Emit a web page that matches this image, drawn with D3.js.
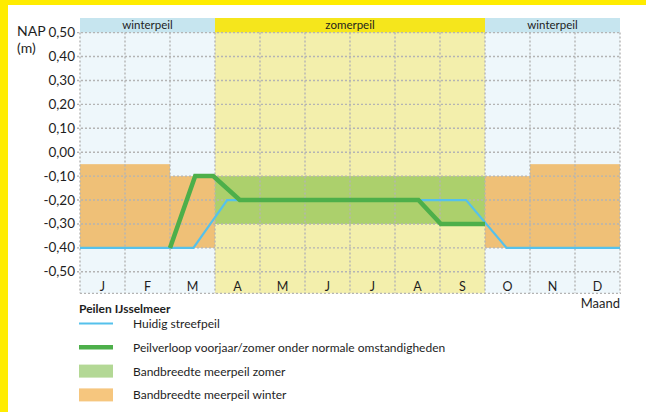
<!DOCTYPE html>
<html>
<head>
<meta charset="utf-8">
<script src="https://cdn.jsdelivr.net/npm/d3@7"></script>
<style>
  body { margin: 0; background: #fff; }
  svg text { font-family: Lato, "Noto Sans", sans-serif; fill: #1e1e1e; }
</style>
</head>
<body>
<div id="chart"></div>
<script>
// maanden en seizoenen
let months = ["J", "F", "M", "A", "M", "J", "J", "A", "S", "O", "N", "D"];
let seasons = [
    { name: "winterpeil", from: 0, to: 3, head: "#c6e5ef", bg: "#eef7fb" },
    { name: "zomerpeil", from: 3, to: 9, head: "#f5e61c", bg: "#f3efac" },
    { name: "winterpeil", from: 9, to: 12, head: "#c6e5ef", bg: "#eef7fb" }
];
let yTicks = [0.5, 0.4, 0.3, 0.2, 0.1, 0, -0.1, -0.2, -0.3, -0.4, -0.5];

// bandbreedtes per maand [van, tot, boven, onder]
let winterBand = [[0, 2, -0.05, -0.40], [2, 3, -0.10, -0.40], [9, 10, -0.10, -0.40], [10, 12, -0.05, -0.40]];
let zomerBand = [[3, 9, -0.10, -0.30]];

// lijnen: [maand, peil]
let streefpeil = [[0, -0.40], [2.52, -0.40], [3.27, -0.20], [8.58, -0.20], [9.48, -0.40], [12, -0.40]];
let peilverloop = [[2.0, -0.40], [2.56, -0.10], [2.96, -0.10], [3.55, -0.20], [7.52, -0.20], [8.02, -0.30], [9.0, -0.30]];

let legendItems = [
    { type: "line", color: "#55c1ec", w: 2.2, label: "Huidig streefpeil" },
    { type: "line", color: "#4daf4a", w: 4.5, label: "Peilverloop voorjaar/zomer onder normale omstandigheden" },
    { type: "rect", color: "#b3d895", label: "Bandbreedte meerpeil zomer" },
    { type: "rect", color: "#f6c67e", label: "Bandbreedte meerpeil winter" }
];

let W = 646, H = 412;
let svg = d3.select("#chart").append("svg").attr("width", W).attr("height", H);

// gele rand
svg.append("rect").attr("x", 0).attr("y", 0).attr("width", W).attr("height", 5).attr("fill", "#ffec00");
svg.append("rect").attr("x", 0).attr("y", 0).attr("width", 8).attr("height", H).attr("fill", "#ffec00");

let x = d3.scaleLinear().domain([0, 12]).range([80, 620]);
let y = d3.scaleLinear().domain([-0.5, 0.5]).range([271.8, 32.6]);
let yBottom = y(-0.59);
let yTop = y(0.5);

// achtergrond seizoenen
svg.selectAll(".bg").data(seasons).enter().append("rect")
    .attr("x", d => x(d.from)).attr("y", yTop)
    .attr("width", d => x(d.to) - x(d.from)).attr("height", yBottom - yTop)
    .attr("fill", d => d.bg);
svg.selectAll(".head").data(seasons).enter().append("rect")
    .attr("x", d => x(d.from)).attr("y", 18)
    .attr("width", d => x(d.to) - x(d.from)).attr("height", yTop - 18)
    .attr("fill", d => d.head);
svg.selectAll(".headtxt").data(seasons).enter().append("text")
    .attr("x", d => (x(d.from) + x(d.to)) / 2).attr("y", 29)
    .attr("text-anchor", "middle").style("font-size", "11.5px")
    .text(d => d.name);

// bandbreedtes
svg.selectAll(".wband").data(winterBand).enter().append("rect")
    .attr("x", d => x(d[0])).attr("y", d => y(d[2]))
    .attr("width", d => x(d[1]) - x(d[0])).attr("height", d => y(d[3]) - y(d[2]))
    .attr("fill", "#efc077");
svg.selectAll(".zband").data(zomerBand).enter().append("rect")
    .attr("x", d => x(d[0])).attr("y", d => y(d[2]))
    .attr("width", d => x(d[1]) - x(d[0])).attr("height", d => y(d[3]) - y(d[2]))
    .attr("fill", "#acd06c");

// rasterlijnen
let grid = svg.append("g").attr("stroke", "#b4b4b4").attr("stroke-width", 1.4).attr("stroke-dasharray", "2,2");
grid.selectAll(".hl").data(yTicks).enter().append("line")
    .attr("x1", 77).attr("x2", 621).attr("y1", d => y(d)).attr("y2", d => y(d));
grid.append("line").attr("x1", 80).attr("x2", 621).attr("y1", yBottom).attr("y2", yBottom);
grid.selectAll(".vl").data(d3.range(13)).enter().append("line")
    .attr("x1", d => x(d)).attr("x2", d => x(d)).attr("y1", yTop).attr("y2", yBottom);

// y-as labels
svg.selectAll(".yl").data(yTicks).enter().append("text")
    .attr("x", 75).attr("y", d => y(d) + 4.5)
    .attr("text-anchor", "end").style("font-size", "13.5px")
    .text(d => d3.format(".2f")(d).replace(".", ",").replace("−", "-"));
svg.append("text").attr("x", 17).attr("y", 36).style("font-size", "14px").text("NAP");
svg.append("text").attr("x", 17).attr("y", 53).style("font-size", "14px").text("(m)");

// maanden
svg.selectAll(".ml").data(months).enter().append("text")
    .attr("x", (d, i) => x(i + 0.5)).attr("y", 291)
    .attr("text-anchor", "middle").style("font-size", "12.5px")
    .text(d => d);
svg.append("text").attr("x", 620).attr("y", 308).attr("text-anchor", "end")
    .style("font-size", "13px").text("Maand");

// lijnen
let line = d3.line().x(d => x(d[0])).y(d => y(d[1]));
svg.append("path").datum(streefpeil).attr("d", line)
    .attr("fill", "none").attr("stroke", "#55c1ec").attr("stroke-width", 2.2);
svg.append("path").datum(peilverloop).attr("d", line)
    .attr("fill", "none").attr("stroke", "#4daf4a").attr("stroke-width", 4.5).attr("stroke-linejoin", "miter");

// legenda
svg.append("text").attr("x", 79).attr("y", 313).style("font-size", "12px")
    .style("font-weight", "bold").text("Peilen IJsselmeer");
let lg = svg.selectAll(".lg").data(legendItems).enter().append("g")
    .attr("transform", (d, i) => "translate(79," + (323.5 + i * 23.8) + ")");
lg.filter(d => d.type === "line").append("line")
    .attr("x1", 0).attr("x2", 34).attr("y1", 0).attr("y2", 0)
    .attr("stroke", d => d.color).attr("stroke-width", d => d.w);
lg.filter(d => d.type === "rect").append("rect")
    .attr("x", 0).attr("y", -6.5).attr("width", 34).attr("height", 13)
    .attr("fill", d => d.color);
lg.append("text").attr("x", 54).attr("y", 4.5).style("font-size", "12px").text(d => d.label);
</script>
</body>
</html>
